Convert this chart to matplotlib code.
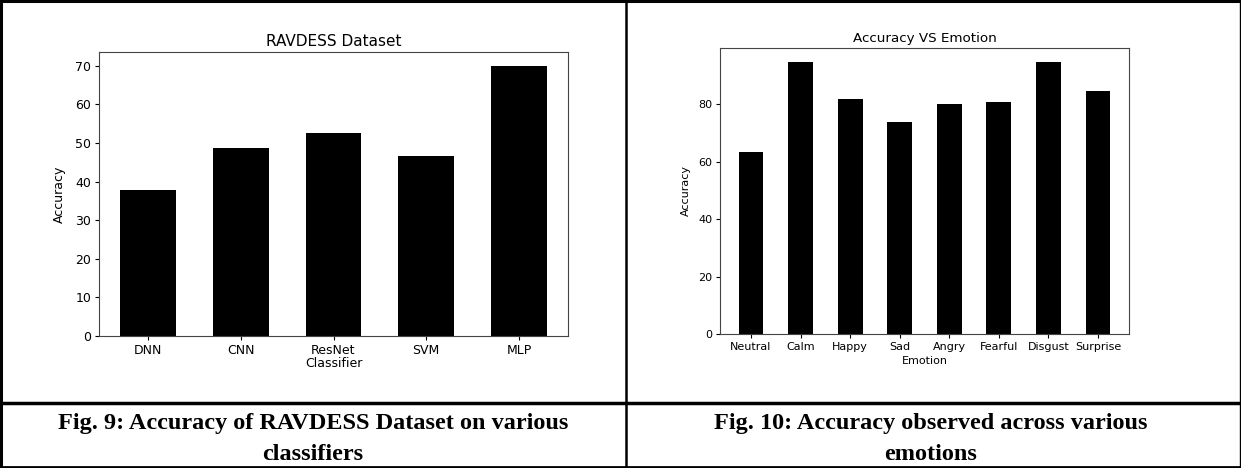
import matplotlib
matplotlib.use("Agg")
import matplotlib.pyplot as plt

# data
classifiers = ["DNN", "CNN", "ResNet", "SVM", "MLP"]
classifier_acc = [37.9, 48.8, 52.5, 46.7, 70.1]

emotions = ["Neutral", "Calm", "Happy", "Sad", "Angry", "Fearful", "Disgust", "Surprise"]
emotion_acc = [63.3, 94.8, 81.9, 73.8, 80.0, 80.9, 94.6, 84.7]

captions = ["Fig. 9: Accuracy of RAVDESS Dataset on various\nclassifiers",
            "Fig. 10: Accuracy observed across various\nemotions"]

W, H = 1241, 468
fig = plt.figure(figsize=(W / 100, H / 100), dpi=100)

# table frame drawn in pixel coords
frame = fig.add_axes([0, 0, 1, 1])
frame.set_xlim(0, W)
frame.set_ylim(H, 0)
frame.axis("off")
frame.plot([1, 1], [0, H], color="black", lw=2.2)
frame.plot([W - 1.5, W - 1.5], [0, H], color="black", lw=1.0)
frame.plot([0, W], [1, 1], color="black", lw=2.2)
frame.plot([0, W], [403, 403], color="black", lw=2.5)
frame.plot([0, W], [466.5, 466.5], color="black", lw=2)
frame.plot([626, 626], [0, H], color="black", lw=1.8)

for cx, cap in zip([313, 931], captions):
    l1, l2 = cap.split("\n")
    frame.text(cx, 424, l1, ha="center", va="center", fontsize=17.5,
               fontweight="bold", family="Liberation Serif")
    frame.text(cx, 454, l2, ha="center", va="center", fontsize=17.5,
               fontweight="bold", family="Liberation Serif")


def px_axes(x0, x1, y0, y1):
    return fig.add_axes([x0 / W, 1 - y1 / H, (x1 - x0) / W, (y1 - y0) / H])


# left chart
ax1 = px_axes(99, 568, 52, 336)
ax1.bar(classifiers, classifier_acc, width=0.6, color="black")
ax1.set_title("RAVDESS Dataset", fontsize=11, pad=4)
ax1.set_xlabel("Classifier", fontsize=9, labelpad=0)
ax1.set_ylabel("Accuracy", fontsize=9, labelpad=7)
ax1.tick_params(labelsize=9, length=3, pad=2.5)

# right chart
ax2 = px_axes(720, 1129, 48, 334)
ax2.bar(emotions, emotion_acc, width=0.5, color="black")
ax2.set_title("Accuracy VS Emotion", fontsize=9.7, pad=4)
ax2.set_xlabel("Emotion", fontsize=8, labelpad=3)
ax2.set_ylabel("Accuracy", fontsize=8, labelpad=5)
ax2.tick_params(labelsize=8, length=3, pad=2.5)

for ax in (ax1, ax2):
    for s in ax.spines.values():
        s.set_color("#444444")

fig.savefig("out.png", dpi=100)
